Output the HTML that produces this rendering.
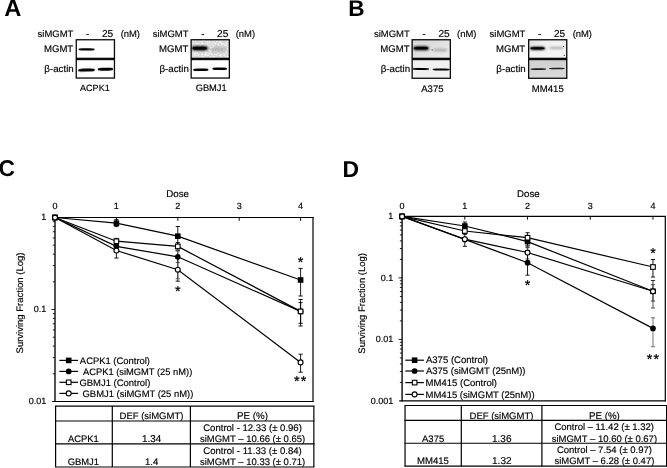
<!DOCTYPE html>
<html lang="en">
<head>
<meta charset="utf-8">
<title>Figure</title>
<style>
html,body{margin:0;padding:0;background:#fff;}
body{width:667px;height:468px;overflow:hidden;}
svg{display:block;will-change:transform;}
svg text{font-family:"Liberation Sans", sans-serif;fill:#000;text-rendering:geometricPrecision;}
</style>
</head>
<body>
<svg width="667" height="468" viewBox="0 0 667 468">
<rect width="667" height="468" fill="#fff"/>
<defs>
<filter id="b1" x="-20%" y="-100%" width="140%" height="300%"><feGaussianBlur stdDeviation="0.45"/></filter>
<filter id="b2" x="-20%" y="-100%" width="140%" height="300%"><feGaussianBlur stdDeviation="0.9"/></filter>
<filter id="b3" x="-30%" y="-150%" width="160%" height="400%"><feGaussianBlur stdDeviation="1.7"/></filter>
<filter id="nz" x="0" y="0" width="100%" height="100%"><feTurbulence type="fractalNoise" baseFrequency="0.55" numOctaves="2" seed="7" result="n"/><feColorMatrix in="n" type="matrix" values="0 0 0 0 1  0 0 0 0 1  0 0 0 0 1  2.2 0 0 0 -0.85"/><feComposite in2="SourceGraphic" operator="in"/></filter>
<linearGradient id="gB1" x1="0" y1="0" x2="1" y2="1"><stop offset="0" stop-color="#d6d6d6"/><stop offset="0.55" stop-color="#e2e2e2"/><stop offset="1" stop-color="#eeeeee"/></linearGradient>
<linearGradient id="gB2" x1="0" y1="0" x2="1" y2="1"><stop offset="0" stop-color="#d9d9d9"/><stop offset="0.3" stop-color="#f0f0f0"/><stop offset="1" stop-color="#f7f7f7"/></linearGradient>
<linearGradient id="gB2b" x1="0" y1="0" x2="0" y2="1"><stop offset="0" stop-color="#d0d0d0"/><stop offset="1" stop-color="#dadada"/></linearGradient>
</defs>
<text x="4.21" y="16.20" font-size="23.73" text-anchor="start" font-weight="bold">A</text>
<text x="348.13" y="16.10" font-size="22.62" text-anchor="start" font-weight="bold">B</text>
<text x="-1.51" y="176.40" font-size="22.75" text-anchor="start" font-weight="bold">C</text>
<text x="342.41" y="176.70" font-size="22.93" text-anchor="start" font-weight="bold">D</text>
<text x="37.62" y="37.30" font-size="9.48" text-anchor="start" stroke="#000" stroke-width="0.16">siMGMT</text>
<text x="86.11" y="37.30" font-size="9.50" text-anchor="start" stroke="#000" stroke-width="0.16">-</text>
<text x="102.00" y="37.30" font-size="10.10" text-anchor="start" stroke="#000" stroke-width="0.16">25</text>
<text x="120.63" y="37.30" font-size="9.43" text-anchor="start" stroke="#000" stroke-width="0.16">(nM)</text>
<text x="43.93" y="51.90" font-size="9.61" text-anchor="start" stroke="#000" stroke-width="0.16">MGMT</text>
<text x="44.32" y="72.00" font-size="9.74" text-anchor="start" stroke="#000" stroke-width="0.16">β-actin</text>
<text x="80.05" y="91.00" font-size="9.05" text-anchor="start" stroke="#000" stroke-width="0.16">ACPK1</text>
<rect x="75.6" y="39.1" width="39.50" height="19.80" fill="#fff"/>
<rect x="75.6" y="58.9" width="39.50" height="19.80" fill="#fff"/>
<rect x="78.50" y="48.30" width="16.10" height="2.2" rx="4.51" ry="1.10" fill="#000" opacity="1.0" filter="url(#b1)" transform="rotate(0.5 86.55 49.40)"/>
<rect x="78.00" y="68.40" width="17.00" height="3.2" rx="4.76" ry="1.60" fill="#000" opacity="1.0" filter="url(#b1)" transform="rotate(-1.6 86.50 70.00)"/>
<rect x="97.70" y="67.85" width="15.50" height="2.9" rx="4.34" ry="1.45" fill="#000" opacity="1.0" filter="url(#b1)" transform="rotate(-1.2 105.45 69.30)"/>
<rect x="76.25" y="39.75" width="38.20" height="18.60" fill="none" stroke="#0a0a0a" stroke-width="1.3"/>
<rect x="76.25" y="59.55" width="38.20" height="18.50" fill="none" stroke="#0a0a0a" stroke-width="1.3"/>
<text x="152.72" y="37.30" font-size="9.48" text-anchor="start" stroke="#000" stroke-width="0.16">siMGMT</text>
<text x="201.21" y="37.30" font-size="9.50" text-anchor="start" stroke="#000" stroke-width="0.16">-</text>
<text x="217.10" y="37.30" font-size="10.10" text-anchor="start" stroke="#000" stroke-width="0.16">25</text>
<text x="235.73" y="37.30" font-size="9.43" text-anchor="start" stroke="#000" stroke-width="0.16">(nM)</text>
<text x="159.03" y="51.90" font-size="9.61" text-anchor="start" stroke="#000" stroke-width="0.16">MGMT</text>
<text x="159.42" y="72.00" font-size="9.74" text-anchor="start" stroke="#000" stroke-width="0.16">β-actin</text>
<text x="195.63" y="91.10" font-size="9.34" text-anchor="start" stroke="#000" stroke-width="0.16">GBMJ1</text>
<rect x="190.5" y="39.1" width="39.50" height="19.80" fill="#d6d6d6"/>
<rect x="190.5" y="58.9" width="39.50" height="19.80" fill="#fff"/>
<rect x="190.5" y="39.1" width="39.5" height="19.8" fill="#fff" filter="url(#nz)"/>
<rect x="191.60" y="46.10" width="16.40" height="4.4" rx="4.59" ry="2.20" fill="#000" opacity="1.0" filter="url(#b2)"/>
<rect x="192.50" y="47.00" width="14.00" height="2.6" rx="3.92" ry="1.30" fill="#000" opacity="1.0" filter="url(#b1)"/>
<rect x="210.50" y="47.10" width="16.00" height="5.0" rx="4.48" ry="2.50" fill="#666" opacity="0.36" filter="url(#b3)"/>
<rect x="193.00" y="68.45" width="15.60" height="2.5" rx="4.37" ry="1.25" fill="#000" opacity="1.0" filter="url(#b1)" transform="rotate(-0.6 200.80 69.70)"/>
<rect x="212.30" y="67.50" width="14.90" height="2.6" rx="4.17" ry="1.30" fill="#000" opacity="1.0" filter="url(#b1)" transform="rotate(0.4 219.75 68.80)"/>
<rect x="191.15" y="39.75" width="38.20" height="18.60" fill="none" stroke="#0a0a0a" stroke-width="1.3"/>
<rect x="191.15" y="59.55" width="38.20" height="18.50" fill="none" stroke="#0a0a0a" stroke-width="1.3"/>
<text x="374.02" y="37.30" font-size="9.48" text-anchor="start" stroke="#000" stroke-width="0.16">siMGMT</text>
<text x="422.51" y="37.30" font-size="9.50" text-anchor="start" stroke="#000" stroke-width="0.16">-</text>
<text x="438.40" y="37.30" font-size="10.10" text-anchor="start" stroke="#000" stroke-width="0.16">25</text>
<text x="457.03" y="37.30" font-size="9.43" text-anchor="start" stroke="#000" stroke-width="0.16">(nM)</text>
<text x="380.33" y="51.90" font-size="9.61" text-anchor="start" stroke="#000" stroke-width="0.16">MGMT</text>
<text x="380.72" y="72.00" font-size="9.74" text-anchor="start" stroke="#000" stroke-width="0.16">β-actin</text>
<text x="421.25" y="91.50" font-size="9.52" text-anchor="start" stroke="#000" stroke-width="0.16">A375</text>
<rect x="411.5" y="39.1" width="39.50" height="19.80" fill="url(#gB1)"/>
<rect x="411.5" y="58.9" width="39.50" height="20.00" fill="#f1f1f1"/>
<rect x="413.20" y="46.30" width="15.80" height="4.0" rx="4.42" ry="2.00" fill="#000" opacity="1.0" filter="url(#b2)"/>
<rect x="414.00" y="47.05" width="14.00" height="2.3" rx="3.92" ry="1.15" fill="#000" opacity="1.0" filter="url(#b1)"/>
<rect x="433.00" y="48.70" width="14.40" height="2.6" rx="4.03" ry="1.30" fill="#555" opacity="0.42" filter="url(#b2)"/>
<circle cx="432.1" cy="49.9" r="0.55" fill="#333"/>
<rect x="412.40" y="68.10" width="16.80" height="1.8" rx="4.70" ry="0.90" fill="#000" opacity="1.0" filter="url(#b1)" transform="rotate(0.6 420.80 69.00)"/>
<rect x="432.60" y="68.55" width="17.20" height="1.9" rx="4.82" ry="0.95" fill="#000" opacity="1.0" filter="url(#b1)" transform="rotate(0.3 441.20 69.50)"/>
<rect x="412.15" y="39.75" width="38.20" height="18.60" fill="none" stroke="#0a0a0a" stroke-width="1.3"/>
<rect x="412.15" y="59.55" width="38.20" height="18.70" fill="none" stroke="#0a0a0a" stroke-width="1.3"/>
<text x="489.62" y="37.30" font-size="9.48" text-anchor="start" stroke="#000" stroke-width="0.16">siMGMT</text>
<text x="538.11" y="37.30" font-size="9.50" text-anchor="start" stroke="#000" stroke-width="0.16">-</text>
<text x="554.00" y="37.30" font-size="10.10" text-anchor="start" stroke="#000" stroke-width="0.16">25</text>
<text x="572.63" y="37.30" font-size="9.43" text-anchor="start" stroke="#000" stroke-width="0.16">(nM)</text>
<text x="495.93" y="51.90" font-size="9.61" text-anchor="start" stroke="#000" stroke-width="0.16">MGMT</text>
<text x="496.32" y="72.00" font-size="9.74" text-anchor="start" stroke="#000" stroke-width="0.16">β-actin</text>
<text x="531.83" y="91.50" font-size="9.58" text-anchor="start" stroke="#000" stroke-width="0.16">MM415</text>
<rect x="528.0" y="39.1" width="39.40" height="19.80" fill="url(#gB2)"/>
<rect x="528.0" y="58.9" width="39.40" height="20.00" fill="url(#gB2b)"/>
<rect x="529.60" y="46.65" width="15.80" height="3.3" rx="4.42" ry="1.65" fill="#000" opacity="1.0" filter="url(#b2)"/>
<rect x="530.50" y="47.30" width="14.00" height="2.0" rx="3.92" ry="1.00" fill="#000" opacity="1.0" filter="url(#b1)"/>
<rect x="549.30" y="47.05" width="14.50" height="1.7" rx="4.06" ry="0.85" fill="#555" opacity="0.55" filter="url(#b2)"/>
<circle cx="563.6" cy="46.3" r="0.6" fill="#222"/>
<circle cx="564.2" cy="55.3" r="0.6" fill="#222"/>
<rect x="530.40" y="68.20" width="15.80" height="1.8" rx="4.42" ry="0.90" fill="#1a1a1a" opacity="1.0" filter="url(#b1)" transform="rotate(-0.5 538.30 69.10)"/>
<rect x="549.00" y="67.70" width="15.80" height="1.6" rx="4.42" ry="0.80" fill="#1a1a1a" opacity="1.0" filter="url(#b1)" transform="rotate(-0.4 556.90 68.50)"/>
<rect x="528.65" y="39.75" width="38.10" height="18.60" fill="none" stroke="#0a0a0a" stroke-width="1.3"/>
<rect x="528.65" y="59.55" width="38.10" height="18.70" fill="none" stroke="#0a0a0a" stroke-width="1.3"/>
<line x1="54.4" y1="217.5" x2="313.6" y2="217.5" stroke="#000" stroke-width="1.2"/>
<line x1="55.0" y1="217.0" x2="55.0" y2="402.1" stroke="#000" stroke-width="1.35"/>
<line x1="313.0" y1="217.0" x2="313.0" y2="402.1" stroke="#000" stroke-width="1.2"/>
<line x1="52.1" y1="401.5" x2="313.6" y2="401.5" stroke="#000" stroke-width="1.2"/>
<text x="52.50" y="208.90" font-size="9.00" text-anchor="start" stroke="#000" stroke-width="0.16">0</text>
<line x1="116.40" y1="217.5" x2="116.40" y2="220.8" stroke="#000" stroke-width="0.95"/>
<text x="113.79" y="208.90" font-size="9.00" text-anchor="start" stroke="#000" stroke-width="0.16">1</text>
<line x1="177.80" y1="217.5" x2="177.80" y2="220.8" stroke="#000" stroke-width="0.95"/>
<text x="175.30" y="208.90" font-size="9.00" text-anchor="start" stroke="#000" stroke-width="0.16">2</text>
<line x1="239.20" y1="217.5" x2="239.20" y2="220.8" stroke="#000" stroke-width="0.95"/>
<text x="236.72" y="208.90" font-size="9.00" text-anchor="start" stroke="#000" stroke-width="0.16">3</text>
<line x1="300.60" y1="217.5" x2="300.60" y2="220.8" stroke="#000" stroke-width="0.95"/>
<text x="298.12" y="208.90" font-size="9.00" text-anchor="start" stroke="#000" stroke-width="0.16">4</text>
<text x="166.22" y="196.60" font-size="9.77" text-anchor="start" stroke="#000" stroke-width="0.16">Dose</text>
<line x1="51.5" y1="309.50" x2="55.0" y2="309.50" stroke="#111" stroke-width="0.95"/>
<line x1="52.8" y1="281.81" x2="55.0" y2="281.81" stroke="#111" stroke-width="0.95"/>
<line x1="52.8" y1="265.60" x2="55.0" y2="265.60" stroke="#111" stroke-width="0.95"/>
<line x1="52.8" y1="254.11" x2="55.0" y2="254.11" stroke="#111" stroke-width="0.95"/>
<line x1="52.8" y1="245.19" x2="55.0" y2="245.19" stroke="#111" stroke-width="0.95"/>
<line x1="52.8" y1="237.91" x2="55.0" y2="237.91" stroke="#111" stroke-width="0.95"/>
<line x1="52.8" y1="231.75" x2="55.0" y2="231.75" stroke="#111" stroke-width="0.95"/>
<line x1="52.8" y1="226.42" x2="55.0" y2="226.42" stroke="#111" stroke-width="0.95"/>
<line x1="52.8" y1="221.71" x2="55.0" y2="221.71" stroke="#111" stroke-width="0.95"/>
<line x1="52.8" y1="373.81" x2="55.0" y2="373.81" stroke="#111" stroke-width="0.95"/>
<line x1="52.8" y1="357.60" x2="55.0" y2="357.60" stroke="#111" stroke-width="0.95"/>
<line x1="52.8" y1="346.11" x2="55.0" y2="346.11" stroke="#111" stroke-width="0.95"/>
<line x1="52.8" y1="337.19" x2="55.0" y2="337.19" stroke="#111" stroke-width="0.95"/>
<line x1="52.8" y1="329.91" x2="55.0" y2="329.91" stroke="#111" stroke-width="0.95"/>
<line x1="52.8" y1="323.75" x2="55.0" y2="323.75" stroke="#111" stroke-width="0.95"/>
<line x1="52.8" y1="318.42" x2="55.0" y2="318.42" stroke="#111" stroke-width="0.95"/>
<line x1="52.8" y1="313.71" x2="55.0" y2="313.71" stroke="#111" stroke-width="0.95"/>
<text x="41.25" y="220.35" font-size="9.00" text-anchor="start" stroke="#000" stroke-width="0.16">1</text>
<text x="33.74" y="312.35" font-size="9.00" text-anchor="start" stroke="#000" stroke-width="0.16">0.1</text>
<text x="28.74" y="404.35" font-size="9.00" text-anchor="start" stroke="#000" stroke-width="0.16">0.01</text>
<text transform="translate(22.70,353.43) rotate(-90)" font-size="9.51" stroke="#000" stroke-width="0.16">Surviving Fraction (Log)</text>
<path d="M116.40 219.6V226.6M114.30 219.6h4.2M114.30 226.6h4.2" stroke="#000" stroke-width="0.9" fill="none"/>
<path d="M116.40 238.4V244.0M114.30 238.4h4.2M114.30 244.0h4.2" stroke="#000" stroke-width="0.9" fill="none"/>
<path d="M116.40 243.0V249.5M114.30 243.0h4.2M114.30 249.5h4.2" stroke="#333" stroke-width="0.9" fill="none"/>
<path d="M116.40 244.5V258.0M114.30 244.5h4.2M114.30 258.0h4.2" stroke="#000" stroke-width="0.9" fill="none"/>
<path d="M177.80 226.5V246.0M175.70 226.5h4.2M175.70 246.0h4.2" stroke="#000" stroke-width="0.9" fill="none"/>
<path d="M177.80 242.6V250.4M175.70 242.6h4.2M175.70 250.4h4.2" stroke="#000" stroke-width="0.9" fill="none"/>
<path d="M177.80 251.0V262.6M175.70 251.0h4.2M175.70 262.6h4.2" stroke="#444" stroke-width="0.9" fill="none"/>
<path d="M177.80 258.5V281.2M175.70 258.5h4.2M175.70 281.2h4.2" stroke="#000" stroke-width="0.9" fill="none"/>
<path d="M177.80 250V278.7M175.70 250h4.2M175.70 278.7h4.2" stroke="#555" stroke-width="0.9" fill="none"/>
<path d="M300.60 268.4V296.0M298.50 268.4h4.2M298.50 296.0h4.2" stroke="#000" stroke-width="0.9" fill="none"/>
<path d="M300.60 299.5V323.3M298.50 299.5h4.2M298.50 323.3h4.2" stroke="#000" stroke-width="0.9" fill="none"/>
<path d="M300.60 302.6V326.0M298.50 302.6h4.2M298.50 326.0h4.2" stroke="#000" stroke-width="0.9" fill="none"/>
<path d="M300.60 354.2V372.2M298.50 354.2h4.2M298.50 372.2h4.2" stroke="#000" stroke-width="0.9" fill="none"/>
<path d="M55.00 217.5 L116.40 223.2 L177.80 236.2 L300.60 280.0" stroke="#000" stroke-width="1.2" fill="none"/>
<path d="M55.00 217.5 L116.40 246.3 L177.80 256.8 L300.60 311.4" stroke="#000" stroke-width="1.2" fill="none"/>
<path d="M55.00 217.5 L116.40 241.2 L177.80 246.4 L300.60 311.4" stroke="#000" stroke-width="1.2" fill="none"/>
<path d="M55.00 217.5 L116.40 250.5 L177.80 269.7 L300.60 362.4" stroke="#000" stroke-width="1.2" fill="none"/>
<rect x="52.20" y="214.70" width="5.6" height="5.6" fill="#000"/>
<rect x="113.60" y="220.40" width="5.6" height="5.6" fill="#000"/>
<rect x="175.00" y="233.40" width="5.6" height="5.6" fill="#000"/>
<rect x="297.80" y="277.20" width="5.6" height="5.6" fill="#000"/>
<circle cx="55.00" cy="217.50" r="2.85" fill="#000"/>
<circle cx="116.40" cy="246.30" r="2.85" fill="#000"/>
<circle cx="177.80" cy="256.80" r="2.85" fill="#000"/>
<circle cx="300.60" cy="311.40" r="2.85" fill="#000"/>
<rect x="52.70" y="215.20" width="4.6" height="4.6" fill="#fff" stroke="#000" stroke-width="1.1"/>
<rect x="114.10" y="238.90" width="4.6" height="4.6" fill="#fff" stroke="#000" stroke-width="1.1"/>
<rect x="175.50" y="244.10" width="4.6" height="4.6" fill="#fff" stroke="#000" stroke-width="1.1"/>
<rect x="298.30" y="309.10" width="4.6" height="4.6" fill="#fff" stroke="#000" stroke-width="1.1"/>
<circle cx="55.00" cy="217.50" r="2.45" fill="#fff" stroke="#000" stroke-width="1.15"/>
<circle cx="116.40" cy="250.50" r="2.45" fill="#fff" stroke="#000" stroke-width="1.15"/>
<circle cx="177.80" cy="269.70" r="2.45" fill="#fff" stroke="#000" stroke-width="1.15"/>
<circle cx="300.60" cy="362.40" r="2.45" fill="#fff" stroke="#000" stroke-width="1.15"/>
<text x="175.01" y="295.76" font-size="14.30" text-anchor="start" stroke="#000" stroke-width="0.25">*</text>
<text x="297.71" y="267.06" font-size="14.30" text-anchor="start" stroke="#000" stroke-width="0.25">*</text>
<text x="294.11" y="385.76" font-size="14.30" text-anchor="start" stroke="#000" stroke-width="0.25">*</text>
<text x="300.71" y="385.76" font-size="14.30" text-anchor="start" stroke="#000" stroke-width="0.25">*</text>
<line x1="59.4" y1="360.4" x2="78.0" y2="360.4" stroke="#000" stroke-width="1.2"/>
<rect x="65.90" y="357.60" width="5.6" height="5.6" fill="#000"/>
<text x="79.85" y="363.60" font-size="9.44" text-anchor="start" stroke="#000" stroke-width="0.16">ACPK1 (Control)</text>
<line x1="59.4" y1="371.4" x2="78.0" y2="371.4" stroke="#000" stroke-width="1.2"/>
<circle cx="68.70" cy="371.40" r="2.85" fill="#000"/>
<text x="82.95" y="374.60" font-size="9.36" text-anchor="start" stroke="#000" stroke-width="0.16">ACPK1 (siMGMT (25 nM))</text>
<line x1="59.4" y1="382.3" x2="78.0" y2="382.3" stroke="#000" stroke-width="1.2"/>
<rect x="66.40" y="380.00" width="4.6" height="4.6" fill="#fff" stroke="#000" stroke-width="1.1"/>
<text x="79.43" y="385.50" font-size="9.46" text-anchor="start" stroke="#000" stroke-width="0.16">GBMJ1 (Control)</text>
<line x1="59.4" y1="393.4" x2="78.0" y2="393.4" stroke="#000" stroke-width="1.2"/>
<circle cx="68.70" cy="393.40" r="2.45" fill="#fff" stroke="#000" stroke-width="1.15"/>
<text x="82.53" y="396.60" font-size="9.43" text-anchor="start" stroke="#000" stroke-width="0.16">GBMJ1 (siMGMT (25 nM))</text>
<line x1="401.5" y1="216.4" x2="665.9" y2="216.4" stroke="#000" stroke-width="1.2"/>
<line x1="402.1" y1="215.9" x2="402.1" y2="401.55" stroke="#000" stroke-width="1.35"/>
<line x1="665.3" y1="215.9" x2="665.3" y2="401.55" stroke="#000" stroke-width="1.2"/>
<line x1="399.20000000000005" y1="400.95" x2="665.9" y2="400.95" stroke="#000" stroke-width="1.2"/>
<text x="399.60" y="208.90" font-size="9.00" text-anchor="start" stroke="#000" stroke-width="0.16">0</text>
<line x1="464.82" y1="216.4" x2="464.82" y2="219.70000000000002" stroke="#000" stroke-width="0.95"/>
<text x="462.21" y="208.90" font-size="9.00" text-anchor="start" stroke="#000" stroke-width="0.16">1</text>
<line x1="527.54" y1="216.4" x2="527.54" y2="219.70000000000002" stroke="#000" stroke-width="0.95"/>
<text x="525.04" y="208.90" font-size="9.00" text-anchor="start" stroke="#000" stroke-width="0.16">2</text>
<line x1="590.26" y1="216.4" x2="590.26" y2="219.70000000000002" stroke="#000" stroke-width="0.95"/>
<text x="587.78" y="208.90" font-size="9.00" text-anchor="start" stroke="#000" stroke-width="0.16">3</text>
<line x1="652.98" y1="216.4" x2="652.98" y2="219.70000000000002" stroke="#000" stroke-width="0.95"/>
<text x="650.50" y="208.90" font-size="9.00" text-anchor="start" stroke="#000" stroke-width="0.16">4</text>
<text x="517.03" y="196.60" font-size="9.68" text-anchor="start" stroke="#000" stroke-width="0.16">Dose</text>
<line x1="398.6" y1="277.92" x2="402.1" y2="277.92" stroke="#111" stroke-width="0.95"/>
<line x1="399.90000000000003" y1="259.40" x2="402.1" y2="259.40" stroke="#111" stroke-width="0.95"/>
<line x1="399.90000000000003" y1="248.57" x2="402.1" y2="248.57" stroke="#111" stroke-width="0.95"/>
<line x1="399.90000000000003" y1="240.88" x2="402.1" y2="240.88" stroke="#111" stroke-width="0.95"/>
<line x1="399.90000000000003" y1="234.92" x2="402.1" y2="234.92" stroke="#111" stroke-width="0.95"/>
<line x1="399.90000000000003" y1="230.05" x2="402.1" y2="230.05" stroke="#111" stroke-width="0.95"/>
<line x1="399.90000000000003" y1="225.93" x2="402.1" y2="225.93" stroke="#111" stroke-width="0.95"/>
<line x1="399.90000000000003" y1="222.36" x2="402.1" y2="222.36" stroke="#111" stroke-width="0.95"/>
<line x1="399.90000000000003" y1="219.21" x2="402.1" y2="219.21" stroke="#111" stroke-width="0.95"/>
<line x1="398.6" y1="339.43" x2="402.1" y2="339.43" stroke="#111" stroke-width="0.95"/>
<line x1="399.90000000000003" y1="320.91" x2="402.1" y2="320.91" stroke="#111" stroke-width="0.95"/>
<line x1="399.90000000000003" y1="310.08" x2="402.1" y2="310.08" stroke="#111" stroke-width="0.95"/>
<line x1="399.90000000000003" y1="302.40" x2="402.1" y2="302.40" stroke="#111" stroke-width="0.95"/>
<line x1="399.90000000000003" y1="296.44" x2="402.1" y2="296.44" stroke="#111" stroke-width="0.95"/>
<line x1="399.90000000000003" y1="291.56" x2="402.1" y2="291.56" stroke="#111" stroke-width="0.95"/>
<line x1="399.90000000000003" y1="287.45" x2="402.1" y2="287.45" stroke="#111" stroke-width="0.95"/>
<line x1="399.90000000000003" y1="283.88" x2="402.1" y2="283.88" stroke="#111" stroke-width="0.95"/>
<line x1="399.90000000000003" y1="280.73" x2="402.1" y2="280.73" stroke="#111" stroke-width="0.95"/>
<line x1="399.90000000000003" y1="382.43" x2="402.1" y2="382.43" stroke="#111" stroke-width="0.95"/>
<line x1="399.90000000000003" y1="371.60" x2="402.1" y2="371.60" stroke="#111" stroke-width="0.95"/>
<line x1="399.90000000000003" y1="363.91" x2="402.1" y2="363.91" stroke="#111" stroke-width="0.95"/>
<line x1="399.90000000000003" y1="357.95" x2="402.1" y2="357.95" stroke="#111" stroke-width="0.95"/>
<line x1="399.90000000000003" y1="353.08" x2="402.1" y2="353.08" stroke="#111" stroke-width="0.95"/>
<line x1="399.90000000000003" y1="348.96" x2="402.1" y2="348.96" stroke="#111" stroke-width="0.95"/>
<line x1="399.90000000000003" y1="345.39" x2="402.1" y2="345.39" stroke="#111" stroke-width="0.95"/>
<line x1="399.90000000000003" y1="342.25" x2="402.1" y2="342.25" stroke="#111" stroke-width="0.95"/>
<text x="388.15" y="219.15" font-size="9.00" text-anchor="start" stroke="#000" stroke-width="0.16">1</text>
<text x="380.64" y="280.67" font-size="9.00" text-anchor="start" stroke="#000" stroke-width="0.16">0.1</text>
<text x="375.64" y="342.18" font-size="9.00" text-anchor="start" stroke="#000" stroke-width="0.16">0.01</text>
<text x="370.65" y="403.70" font-size="9.00" text-anchor="start" stroke="#000" stroke-width="0.16">0.001</text>
<text transform="translate(365.10,353.63) rotate(-90)" font-size="9.48" stroke="#000" stroke-width="0.16">Surviving Fraction (Log)</text>
<path d="M464.82 222.0V229.5M462.72 222.0h4.2M462.72 229.5h4.2" stroke="#000" stroke-width="0.9" fill="none"/>
<path d="M464.82 228.0V234.0M462.72 228.0h4.2M462.72 234.0h4.2" stroke="#000" stroke-width="0.9" fill="none"/>
<path d="M464.82 234.0V246.3M462.72 234.0h4.2M462.72 246.3h4.2" stroke="#000" stroke-width="0.9" fill="none"/>
<path d="M527.54 232.7V245.8M525.44 232.7h4.2M525.44 245.8h4.2" stroke="#000" stroke-width="0.9" fill="none"/>
<path d="M527.54 236.0V247.7M525.44 236.0h4.2M525.44 247.7h4.2" stroke="#000" stroke-width="0.9" fill="none"/>
<path d="M527.54 246.0V259.0M525.44 246.0h4.2M525.44 259.0h4.2" stroke="#444" stroke-width="0.9" fill="none"/>
<path d="M527.54 250.5V275.2M525.44 250.5h4.2M525.44 275.2h4.2" stroke="#000" stroke-width="0.9" fill="none"/>
<path d="M652.98 259.5V277.0M650.88 259.5h4.2M650.88 277.0h4.2" stroke="#000" stroke-width="0.9" fill="none"/>
<path d="M652.98 280.5V301.0M650.88 280.5h4.2M650.88 301.0h4.2" stroke="#222" stroke-width="0.9" fill="none"/>
<path d="M652.98 284.7V308.0M650.88 284.7h4.2M650.88 308.0h4.2" stroke="#444" stroke-width="0.9" fill="none"/>
<path d="M652.98 317.8V346.7M650.88 317.8h4.2M650.88 346.7h4.2" stroke="#666" stroke-width="0.9" fill="none"/>
<path d="M402.10 216.4 L464.82 226.0 L527.54 241.6 L652.98 291.3" stroke="#000" stroke-width="1.2" fill="none"/>
<path d="M402.10 216.4 L464.82 239.4 L527.54 262.7 L652.98 328.4" stroke="#000" stroke-width="1.2" fill="none"/>
<path d="M402.10 216.4 L464.82 231.0 L527.54 237.7 L652.98 267.0" stroke="#000" stroke-width="1.2" fill="none"/>
<path d="M402.10 216.4 L464.82 239.2 L527.54 252.5 L652.98 291.3" stroke="#000" stroke-width="1.2" fill="none"/>
<rect x="399.30" y="213.60" width="5.6" height="5.6" fill="#000"/>
<rect x="462.02" y="223.20" width="5.6" height="5.6" fill="#000"/>
<rect x="524.74" y="238.80" width="5.6" height="5.6" fill="#000"/>
<rect x="650.18" y="288.50" width="5.6" height="5.6" fill="#000"/>
<circle cx="402.10" cy="216.40" r="2.85" fill="#000"/>
<circle cx="464.82" cy="239.40" r="2.85" fill="#000"/>
<circle cx="527.54" cy="262.70" r="2.85" fill="#000"/>
<circle cx="652.98" cy="328.40" r="2.85" fill="#000"/>
<rect x="399.80" y="214.10" width="4.6" height="4.6" fill="#fff" stroke="#000" stroke-width="1.1"/>
<rect x="462.52" y="228.70" width="4.6" height="4.6" fill="#fff" stroke="#000" stroke-width="1.1"/>
<rect x="525.24" y="235.40" width="4.6" height="4.6" fill="#fff" stroke="#000" stroke-width="1.1"/>
<rect x="650.68" y="264.70" width="4.6" height="4.6" fill="#fff" stroke="#000" stroke-width="1.1"/>
<circle cx="402.10" cy="216.40" r="2.45" fill="#fff" stroke="#000" stroke-width="1.15"/>
<circle cx="464.82" cy="239.20" r="2.45" fill="#fff" stroke="#000" stroke-width="1.15"/>
<circle cx="527.54" cy="252.50" r="2.45" fill="#fff" stroke="#000" stroke-width="1.15"/>
<circle cx="652.98" cy="291.30" r="2.45" fill="#fff" stroke="#000" stroke-width="1.15"/>
<text x="524.81" y="290.36" font-size="14.30" text-anchor="start" stroke="#000" stroke-width="0.25">*</text>
<text x="650.21" y="258.16" font-size="14.30" text-anchor="start" stroke="#000" stroke-width="0.25">*</text>
<text x="646.81" y="363.86" font-size="14.30" text-anchor="start" stroke="#000" stroke-width="0.25">*</text>
<text x="653.41" y="363.86" font-size="14.30" text-anchor="start" stroke="#000" stroke-width="0.25">*</text>
<line x1="405.3" y1="360.2" x2="423.90000000000003" y2="360.2" stroke="#000" stroke-width="1.2"/>
<rect x="411.80" y="357.40" width="5.6" height="5.6" fill="#000"/>
<text x="425.95" y="363.40" font-size="9.56" text-anchor="start" stroke="#000" stroke-width="0.16">A375 (Control)</text>
<line x1="405.3" y1="371.0" x2="423.90000000000003" y2="371.0" stroke="#000" stroke-width="1.2"/>
<circle cx="414.60" cy="371.00" r="2.85" fill="#000"/>
<text x="425.95" y="374.20" font-size="9.51" text-anchor="start" stroke="#000" stroke-width="0.16">A375 (siMGMT (25nM))</text>
<line x1="405.3" y1="382.6" x2="423.90000000000003" y2="382.6" stroke="#000" stroke-width="1.2"/>
<rect x="412.30" y="380.30" width="4.6" height="4.6" fill="#fff" stroke="#000" stroke-width="1.1"/>
<text x="425.54" y="385.80" font-size="9.54" text-anchor="start" stroke="#000" stroke-width="0.16">MM415 (Control)</text>
<line x1="405.3" y1="394.4" x2="423.90000000000003" y2="394.4" stroke="#000" stroke-width="1.2"/>
<circle cx="414.60" cy="394.40" r="2.45" fill="#fff" stroke="#000" stroke-width="1.15"/>
<text x="425.54" y="397.60" font-size="9.50" text-anchor="start" stroke="#000" stroke-width="0.16">MM415 (siMGMT (25nM))</text>
<line x1="55.050000000000004" y1="406.1" x2="314.40000000000003" y2="406.1" stroke="#000" stroke-width="1.2"/>
<line x1="55.050000000000004" y1="421.0" x2="314.40000000000003" y2="421.0" stroke="#000" stroke-width="1.2"/>
<line x1="55.050000000000004" y1="443.8" x2="314.40000000000003" y2="443.8" stroke="#000" stroke-width="1.2"/>
<line x1="55.050000000000004" y1="467.0" x2="314.40000000000003" y2="467.0" stroke="#000" stroke-width="1.2"/>
<line x1="55.6" y1="406.1" x2="55.6" y2="467.0" stroke="#000" stroke-width="1.2"/>
<line x1="112.3" y1="406.1" x2="112.3" y2="467.0" stroke="#000" stroke-width="1.2"/>
<line x1="190.4" y1="406.1" x2="190.4" y2="467.0" stroke="#000" stroke-width="1.2"/>
<line x1="313.85" y1="406.1" x2="313.85" y2="467.0" stroke="#000" stroke-width="1.2"/>
<text x="119.54" y="418.80" font-size="9.50" text-anchor="start" stroke="#000" stroke-width="0.16">DEF (siMGMT)</text>
<text x="237.02" y="418.80" font-size="9.75" text-anchor="start" stroke="#000" stroke-width="0.16">PE (%)</text>
<text x="68.05" y="442.00" font-size="9.40" text-anchor="start" stroke="#000" stroke-width="0.16">ACPK1</text>
<text x="142.06" y="442.00" font-size="9.89" text-anchor="start" stroke="#000" stroke-width="0.16">1.34</text>
<text x="203.22" y="430.50" font-size="9.55" text-anchor="start" stroke="#000" stroke-width="0.16">Control - 12.33 (± 0.96)</text>
<text x="199.92" y="442.00" font-size="9.50" text-anchor="start" stroke="#000" stroke-width="0.16">siMGMT – 10.66 (± 0.65)</text>
<text x="67.63" y="464.80" font-size="9.43" text-anchor="start" stroke="#000" stroke-width="0.16">GBMJ1</text>
<text x="144.98" y="464.80" font-size="9.57" text-anchor="start" stroke="#000" stroke-width="0.16">1.4</text>
<text x="203.22" y="453.60" font-size="9.62" text-anchor="start" stroke="#000" stroke-width="0.16">Control - 11.33 (± 0.84)</text>
<text x="199.92" y="465.00" font-size="9.50" text-anchor="start" stroke="#000" stroke-width="0.16">siMGMT – 10.33 (± 0.71)</text>
<line x1="404.5" y1="405.5" x2="667.15" y2="405.5" stroke="#000" stroke-width="1.2"/>
<line x1="404.5" y1="420.3" x2="667.15" y2="420.3" stroke="#000" stroke-width="1.2"/>
<line x1="404.5" y1="443.25" x2="667.15" y2="443.25" stroke="#000" stroke-width="1.2"/>
<line x1="404.5" y1="466.2" x2="667.15" y2="466.2" stroke="#000" stroke-width="1.2"/>
<line x1="405.05" y1="405.5" x2="405.05" y2="466.2" stroke="#000" stroke-width="1.2"/>
<line x1="461.3" y1="405.5" x2="461.3" y2="466.2" stroke="#000" stroke-width="1.2"/>
<line x1="541.9" y1="405.5" x2="541.9" y2="466.2" stroke="#000" stroke-width="1.2"/>
<line x1="666.6" y1="405.5" x2="666.6" y2="466.2" stroke="#000" stroke-width="1.2"/>
<text x="469.54" y="418.50" font-size="9.50" text-anchor="start" stroke="#000" stroke-width="0.16">DEF (siMGMT)</text>
<text x="589.02" y="418.50" font-size="9.72" text-anchor="start" stroke="#000" stroke-width="0.16">PE (%)</text>
<text x="422.05" y="441.60" font-size="9.48" text-anchor="start" stroke="#000" stroke-width="0.16">A375</text>
<text x="492.05" y="441.60" font-size="9.97" text-anchor="start" stroke="#000" stroke-width="0.16">1.36</text>
<text x="554.42" y="430.40" font-size="9.51" text-anchor="start" stroke="#000" stroke-width="0.16">Control – 11.42 (± 1.32)</text>
<text x="551.71" y="441.60" font-size="9.50" text-anchor="start" stroke="#000" stroke-width="0.16">siMGMT – 10.60 (± 0.67)</text>
<text x="416.93" y="464.40" font-size="9.58" text-anchor="start" stroke="#000" stroke-width="0.16">MM415</text>
<text x="492.05" y="464.40" font-size="10.00" text-anchor="start" stroke="#000" stroke-width="0.16">1.32</text>
<text x="556.93" y="453.10" font-size="9.50" text-anchor="start" stroke="#000" stroke-width="0.16">Control – 7.54 (± 0.97)</text>
<text x="554.42" y="464.40" font-size="9.49" text-anchor="start" stroke="#000" stroke-width="0.16">siMGMT – 6.28 (± 0.47)</text>
</svg>
</body>
</html>
